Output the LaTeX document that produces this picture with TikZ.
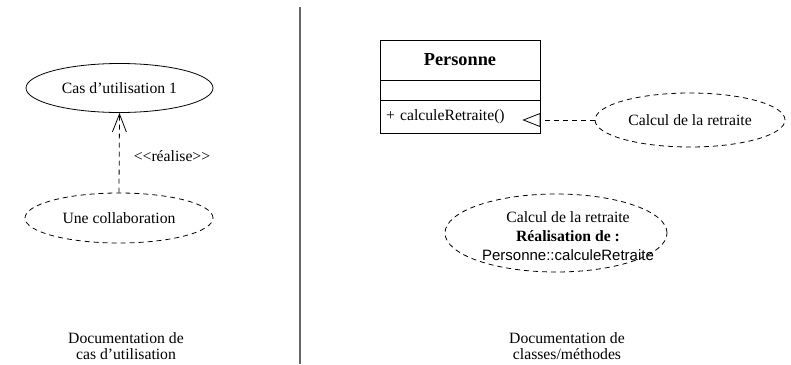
\documentclass[tikz,border=0pt]{standalone}
\usepackage{fontspec}
\setmainfont{Liberation Serif}
\newfontfamily\sansf{Liberation Sans}
\usetikzlibrary{shapes.geometric,arrows.meta}
\tikzset{
  txt/.style={font=\fontsize{15.7}{16}\selectfont, inner sep=0pt},
  uc/.style={ellipse, draw, line width=0.8pt, inner sep=0pt, txt},
  dsh/.style={dash pattern=on 5pt off 4pt},
  classpart/.style={rectangle, draw, line width=0.8pt, minimum width=160pt, inner sep=0pt, txt},
}
\begin{document}
\begin{tikzpicture}[x=1pt,y=-1pt]
\useasboundingbox (0,0) rectangle (791,364);
% separator
\draw[line width=1.4pt, draw=black!60] (300,7) coordinate (sepTop) -- (300,364) coordinate (sepBot);

% left: use case
\node[uc, minimum width=187pt, minimum height=49pt] (case) at (119.5,88) {Cas d’utilisation 1};
\node[uc, dsh, minimum width=188pt, minimum height=50pt] (collab) at (119,218) {Une collaboration};
\draw[line width=0.8pt, dsh, -{Straight Barb[length=18pt,width=14pt,line width=0.8pt]}] (collab.north) -- (case.south);
\node[txt] (realise) at (172,156) {<\kern0pt<réalise>\kern0pt>};

% right: class
\node[classpart, minimum height=40pt, font=\fontsize{18.3}{20}\selectfont\bfseries] (personne) at (460,60) {Personne};
\node[classpart, minimum height=20pt] (attrs) at (460,90) {};
\node[classpart, minimum height=33pt, text width=148pt, align=left, inner xsep=6pt] (ops) at (460,116.5) {+ calculeRetraite()};

\node[uc, dsh, minimum width=190pt, minimum height=54pt] (calc) at (690,120) {Calcul de la retraite};
\draw[line width=0.8pt, dsh, -{Triangle[open,length=18pt,width=14pt,line width=0.8pt]}, shorten >=-18pt] (calc.west) -- (calc.west -| ops.east);

\node[uc, dsh, minimum width=222pt, minimum height=78pt] (real) at (556,233) {};
\node[txt, align=center, font=\fontsize{15.7}{19}\selectfont] (realtext) at (568,236)
  {Calcul de la retraite\\\textbf{Réalisation de :}\\{\sansf\fontsize{15}{19}\selectfont Personne::calculeRetraite}};

% captions
\node[txt, align=center, font=\fontsize{15.7}{16.5}\selectfont] (capL) at (126,346) {Documentation de\\cas d’utilisation};
\node[txt, align=center, font=\fontsize{15.7}{16.5}\selectfont] (capR) at (567,346) {Documentation de\\classes/méthodes};
\end{tikzpicture}
\end{document}
